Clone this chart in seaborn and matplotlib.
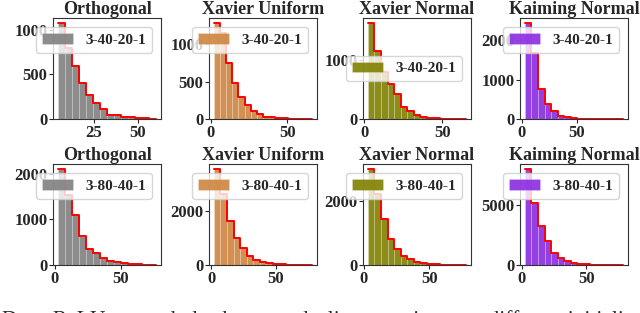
import numpy as np
import pandas as pd
import matplotlib
matplotlib.use("Agg")
import matplotlib.pyplot as plt
import seaborn as sns

sns.set_style("ticks")
plt.rcParams['font.family'] = ['Liberation Serif', 'DejaVu Serif']
plt.rcParams['font.weight'] = 'bold'
plt.rcParams['axes.edgecolor'] = '#333333'

inits = ['Orthogonal', 'Xavier Uniform', 'Xavier Normal', 'Kaiming Normal']
colors = ['gray', 'peru', 'olive', 'blueviolet']
archs = ['3-40-20-1', '3-80-40-1']

# histogram bins (first edge, bin width) per panel
starts_40 = [4.4, 2.2, 2.2, 2.7]
widths_40 = [4.0, 4.0, 4.2, 6.0]
starts_80 = [2.5, 2.1, 3.1, 2.4]
widths_80 = [5.3, 5.05, 5.0, 5.08]

# counts per bin
orth_40 = [1080, 800, 590, 400, 275, 180, 110, 50, 45, 22, 22, 10, 6, 4]
xu_40 = [1290, 1150, 750, 480, 300, 190, 112, 68, 31, 22, 13, 10, 5, 4, 2, 1]
xn_40 = [1640, 1160, 800, 600, 430, 210, 143, 69, 29, 17, 10, 6, 4, 2, 1]
kn_40 = [2450, 1670, 770, 370, 215, 85, 43, 20, 12, 8, 5, 3, 2, 1, 1]

orth_80 = [2110, 1530, 1095, 634, 346, 274, 150, 86, 58, 40, 25, 15, 8, 4]
xu_80 = [3580, 2650, 1630, 1010, 620, 345, 185, 100, 60, 35, 20, 12, 7, 4, 2]
xn_80 = [3020, 2240, 1435, 810, 500, 280, 177, 104, 52, 30, 18, 10, 6, 3, 2]
kn_80 = [7970, 5170, 3220, 1980, 960, 550, 330, 190, 82, 45, 25, 12, 6, 3, 2]

rows = [
    (archs[0], starts_40, widths_40, [orth_40, xu_40, xn_40, kn_40]),
    (archs[1], starts_80, widths_80, [orth_80, xu_80, xn_80, kn_80]),
]

caption = "Deep ReLU network dead neuron decline experiment at different initialization"

fig = plt.figure(figsize=(6.4, 3.13), dpi=100)

lefts = [53, 209, 363, 520]
axw = 108
row_top = [18, 164]
row_h = [101, 101]

for r, (arch, starts, widths, counts_list) in enumerate(rows):
    for c in range(4):
        ax = fig.add_axes([lefts[c] / 640, 1 - (row_top[r] + row_h[r]) / 313,
                           axw / 640, row_h[r] / 313])
        counts = counts_list[c]
        n = len(counts)
        edges = [starts[c] + widths[c] * i for i in range(n + 1)]
        df = pd.DataFrame({
            'value': [(edges[i] + edges[i + 1]) / 2 for i in range(n)],
            'count': counts,
        })
        sns.histplot(data=df, x='value', weights='count', bins=edges,
                     color=colors[c], alpha=0.9, edgecolor=(1, 1, 1, 0.35),
                     linewidth=0.4, label=arch, ax=ax)
        sns.histplot(data=df, x='value', weights='count', bins=edges,
                     element='step', fill=False, color='red', linewidth=1.4,
                     ax=ax)
        ax.set_title(inits[c], fontsize=13, fontweight='bold', pad=3)
        ax.set_xlabel('')
        ax.set_ylabel('')
        ax.tick_params(labelsize=12, length=3, width=0.8, pad=1)
        for lab in ax.get_xticklabels() + ax.get_yticklabels():
            lab.set_fontweight('bold')
        loc = 'center right' if (r == 0 and c == 2) else 'upper right'
        ax.legend(loc=loc, borderaxespad=0.6, handlelength=2.0,
                  handletextpad=0.8, prop={'weight': 'bold', 'size': 11})

fig.text(0.003, 1 - 310 / 313, caption, va='top', ha='left',
         fontsize=15.5, fontweight='normal')

plt.savefig('out.png', dpi=100)
plt.close()
